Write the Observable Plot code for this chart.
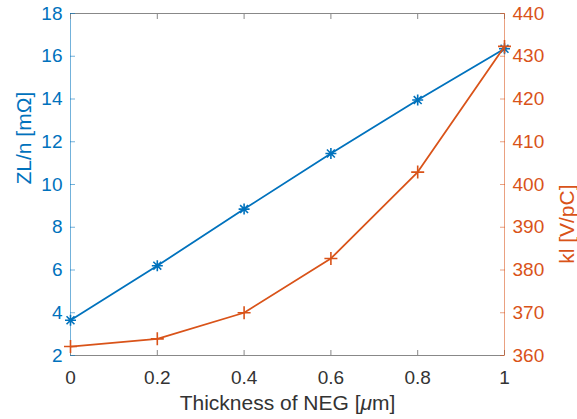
<!DOCTYPE html>
<html><head><meta charset="utf-8">
<script src="https://cdn.jsdelivr.net/npm/d3@7"></script>
<script src="https://cdn.jsdelivr.net/npm/@observablehq/plot@0.6"></script>
<style>
body{margin:0;background:#fff}
#wrap{position:relative;width:577px;height:419px}
#wrap svg{position:absolute;left:0;top:0}
</style>
</head><body><div id="wrap"></div>
<script>
// ---- data ----
const thickness = [0, 0.2, 0.4, 0.6, 0.8, 1];
const zlOverN = [3.65, 6.2, 8.85, 11.45, 13.95, 16.35];
const klValues = [362.1, 363.9, 370.0, 382.7, 402.9, 432.3];
const xTicks = [0, 0.2, 0.4, 0.6, 0.8, 1];
const leftTicks = [2, 4, 6, 8, 10, 12, 14, 16, 18];
const rightTicks = [360, 370, 380, 390, 400, 410, 420, 430, 440];
const xDomain = [0, 1];
const leftDomain = [2, 18];
const rightDomain = [360, 440];
const xLabel = "Thickness of NEG [μm]";
const leftLabel = "ZL/n [mΩ]";
const rightLabel = "kl [V/pC]";

const rows = thickness.map((t, i) => ({t, z: zlOverN[i], k: klValues[i]}));

const BLUE = "#0072BD", ORANGE = "#D95319", GRAY = "#888888", DARK = "#333333";

function matlabStar(){ return {draw(ctx, size){ const r = Math.sqrt(size/Math.PI); const d = r*0.72;
  ctx.moveTo(-r,0); ctx.lineTo(r,0); ctx.moveTo(0,-r); ctx.lineTo(0,r);
  ctx.moveTo(-d,-d); ctx.lineTo(d,d); ctx.moveTo(-d,d); ctx.lineTo(d,-d);}}; }
function matlabPlus(){ return {draw(ctx, size){ const r = Math.sqrt(size/Math.PI);
  ctx.moveTo(-r,0); ctx.lineTo(r,0); ctx.moveTo(0,-r); ctx.lineTo(0,r);}}; }

const common = {
  width: 577, height: 419,
  marginLeft: 70, marginRight: 73, marginTop: 13, marginBottom: 64,
  style: {fontFamily: "'Liberation Sans', Arial, Helvetica, sans-serif", fontSize: "19px", background: "transparent", overflow: "visible"}
};

const p1 = Plot.plot({
  ...common,
  x: {domain: xDomain},
  y: {domain: leftDomain},
  marks: [
    Plot.ruleY([leftDomain[0]], {stroke: GRAY, strokeWidth: 1}),
    Plot.ruleY([leftDomain[1]], {stroke: GRAY, strokeWidth: 1}),
    Plot.ruleX([xDomain[0]], {stroke: BLUE, strokeOpacity: 0.55, strokeWidth: 1}),
    Plot.axisX({ticks: xTicks, anchor: "bottom", tickSize: 5, dy: -5, text: null, label: null, stroke: GRAY}),
    Plot.axisX({ticks: xTicks, anchor: "top", tickSize: 5, dy: 5, text: null, label: null, stroke: GRAY}),
    Plot.axisX({ticks: xTicks, anchor: "bottom", tickSize: 0, tickPadding: 15, label: null, fill: DARK, tickFormat: d => String(d)}),
    Plot.axisY({ticks: leftTicks, anchor: "left", tickSize: 5, dx: 5, text: null, label: null, stroke: BLUE, strokeOpacity: 0.55}),
    Plot.axisY({ticks: leftTicks, anchor: "left", tickSize: 0, tickPadding: 8, label: null, fill: BLUE, tickFormat: d => String(d)}),
    Plot.text([leftLabel], {frameAnchor: "left", rotate: -90, dx: -46, fontSize: 21, fill: BLUE}),
    Plot.text([xLabel], {frameAnchor: "bottom", dy: 54, fontSize: 21, fill: DARK}),
    Plot.line(rows, {x: "t", y: "z", stroke: BLUE, strokeWidth: 1.8}),
    Plot.dot(rows, {x: "t", y: "z", r: 5.5, symbol: matlabStar(), stroke: BLUE, strokeWidth: 1.6, fill: "none"})
  ]
});

const p2 = Plot.plot({
  ...common,
  x: {domain: xDomain, axis: null},
  y: {domain: rightDomain},
  marks: [
    Plot.ruleX([xDomain[1]], {stroke: ORANGE, strokeOpacity: 0.55, strokeWidth: 1}),
    Plot.axisY({ticks: rightTicks, anchor: "right", tickSize: 5, dx: -5, text: null, label: null, stroke: ORANGE, strokeOpacity: 0.55}),
    Plot.axisY({ticks: rightTicks, anchor: "right", tickSize: 0, tickPadding: 8, label: null, fill: ORANGE, tickFormat: d => String(d)}),
    Plot.text([rightLabel], {frameAnchor: "right", rotate: -90, dx: 63, fontSize: 21, fill: ORANGE}),
    Plot.line(rows, {x: "t", y: "k", stroke: ORANGE, strokeWidth: 1.8}),
    Plot.dot(rows, {x: "t", y: "k", r: 6.5, symbol: matlabPlus(), stroke: ORANGE, strokeWidth: 1.6, fill: "none"})
  ]
});

const wrap = document.getElementById("wrap");
wrap.appendChild(p1);
wrap.appendChild(p2);

// italic mu in x label (TeX style)
p1.querySelectorAll("text").forEach(t => {
  if (t.textContent === xLabel) {
    const parts = xLabel.split("μ");
    t.textContent = "";
    const ns = "http://www.w3.org/2000/svg";
    const a = document.createElementNS(ns, "tspan"); a.textContent = parts[0];
    const b = document.createElementNS(ns, "tspan"); b.textContent = "μ"; b.setAttribute("font-style", "italic");
    const c = document.createElementNS(ns, "tspan"); c.textContent = parts[1];
    t.append(a, b, c);
  }
});
</script>
</body></html>
